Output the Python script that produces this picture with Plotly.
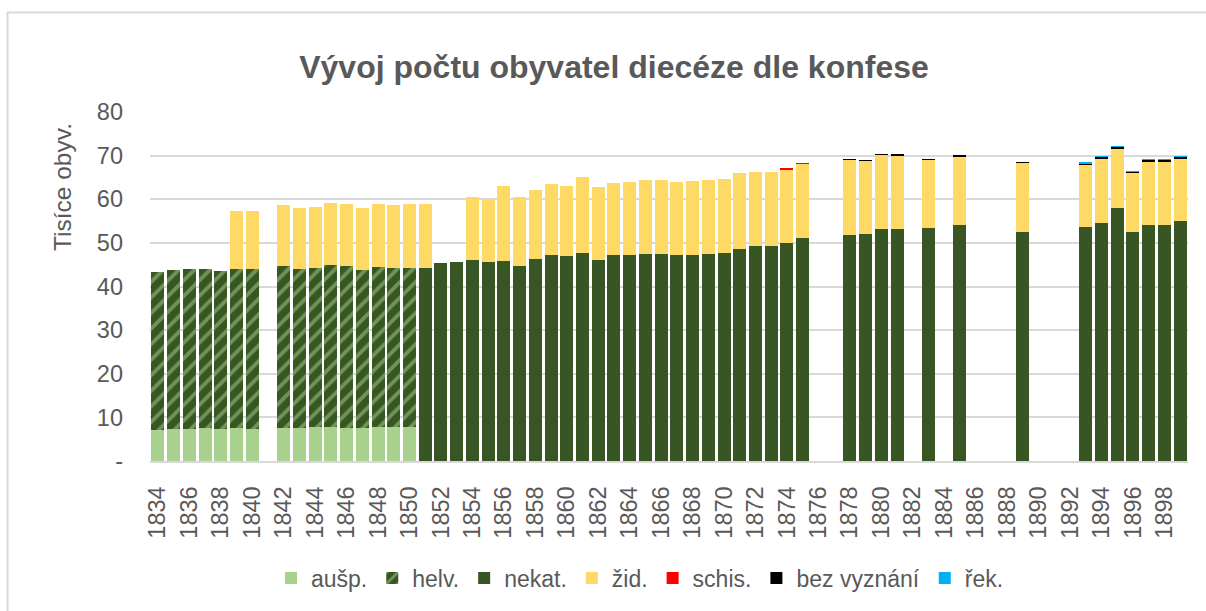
import plotly.graph_objects as go

# Years on the category axis
years = list(range(1834, 1900))

# Population by confession, in thousands (missing years left empty)
ausp = {1834: 7.1, 1835: 7.3, 1836: 7.3, 1837: 7.5, 1838: 7.3, 1839: 7.6, 1840: 7.4,
        1842: 7.5, 1843: 7.6, 1844: 7.7, 1845: 7.7, 1846: 7.5, 1847: 7.6, 1848: 7.7,
        1849: 7.7, 1850: 7.7}
helv = {1834: 36.3, 1835: 36.4, 1836: 36.6, 1837: 36.5, 1838: 36.3, 1839: 36.3, 1840: 36.7,
        1842: 37.1, 1843: 36.3, 1844: 36.6, 1845: 37.3, 1846: 37.2, 1847: 36.2, 1848: 36.8,
        1849: 36.6, 1850: 36.6}
nekat = {1851: 44.3, 1852: 45.4, 1853: 45.7, 1854: 46.0, 1855: 45.6, 1856: 45.8, 1857: 44.7,
         1858: 46.4, 1859: 47.2, 1860: 47.0, 1861: 47.6, 1862: 46.1, 1863: 47.2, 1864: 47.3,
         1865: 47.5, 1866: 47.5, 1867: 47.2, 1868: 47.3, 1869: 47.5, 1870: 47.6, 1871: 48.6,
         1872: 49.2, 1873: 49.2, 1874: 49.9, 1875: 51.1, 1878: 51.9, 1879: 52.0, 1880: 53.1,
         1881: 53.1, 1883: 53.4, 1885: 54.1, 1889: 52.6, 1893: 53.6, 1894: 54.5, 1895: 58.1,
         1896: 52.6, 1897: 54.0, 1898: 54.0, 1899: 55.0}
zid = {1839: 13.4, 1840: 13.1, 1842: 14.0, 1843: 14.0, 1844: 13.9, 1845: 14.1, 1846: 14.3,
       1847: 14.1, 1848: 14.3, 1849: 14.3, 1850: 14.5, 1851: 14.7, 1854: 14.6, 1855: 14.5,
       1856: 17.3, 1857: 15.9, 1858: 15.8, 1859: 16.2, 1860: 16.0, 1861: 17.4, 1862: 16.6,
       1863: 16.6, 1864: 16.7, 1865: 16.8, 1866: 16.9, 1867: 16.8, 1868: 16.8, 1869: 17.0,
       1870: 17.1, 1871: 17.5, 1872: 17.0, 1873: 17.1, 1874: 17.0, 1875: 17.1, 1878: 17.1,
       1879: 16.8, 1880: 17.2, 1881: 17.0, 1883: 15.7, 1885: 15.8, 1889: 15.8, 1893: 14.4,
       1894: 14.8, 1895: 13.5, 1896: 13.5, 1897: 14.6, 1898: 14.6, 1899: 14.3}
schis = {1874: 0.04, 1875: 0.06}
bez = {1878: 0.08, 1879: 0.08, 1880: 0.06, 1881: 0.06, 1883: 0.12, 1885: 0.1, 1889: 0.1,
       1893: 0.3, 1894: 0.4, 1895: 0.45, 1896: 0.35, 1897: 0.4, 1898: 0.4, 1899: 0.5}
rek = {1893: 0.03, 1894: 0.02, 1895: 0.02, 1896: 0.02, 1897: 0.02, 1898: 0.02, 1899: 0.02}

y_ticks = [0, 10, 20, 30, 40, 50, 60, 70, 80]
y_tick_text = ["-", "10", "20", "30", "40", "50", "60", "70", "80"]
x_ticks = list(range(1834, 1900, 2))

TEXT = "#595959"
GRID = "#D9D9D9"
FONT = "Liberation Sans"

series = [
    ("aušp.", ausp, dict(color="#A9D18E")),
    ("helv.", helv, dict(color="#375623",
                         pattern=dict(shape="/", bgcolor="#375623", fgcolor="#A9D18E",
                                      size=11, solidity=0.35, fillmode="overlay"))),
    ("nekat.", nekat, dict(color="#375623")),
    ("žid.", zid, dict(color="#FFD966")),
    ("schis.", schis, dict(color="#FF0000")),
    ("bez vyznání", bez, dict(color="#000000")),
    ("řek.", rek, dict(color="#00B0F0")),
]

fig = go.Figure()
for name, values, marker in series:
    fig.add_trace(go.Bar(
        x=years,
        y=[values.get(yr) for yr in years],
        name=name,
        marker=dict(line=dict(width=0), **marker),
        hovertemplate="%{x}: %{y}<extra>" + name + "</extra>",
    ))

L, R, T, B = 150, 18, 112, 150
W, H = 1206, 611
pw, ph = W - L - R, H - T - B


def px_x(x):
    return (x - L) / pw


def px_y(y):
    return (H - B - y) / ph


fig.update_layout(
    width=W, height=H,
    margin=dict(l=L, r=R, t=T, b=B),
    barmode="stack",
    bargap=0.17,
    plot_bgcolor="white",
    paper_bgcolor="white",
    font=dict(family=FONT, color=TEXT, size=20),
    title=dict(text="<b>Vývoj počtu obyvatel diecéze dle konfese</b>",
               x=614 / W, xanchor="center", y=1 - 67 / H, yanchor="middle",
               font=dict(family=FONT, size=32, color=TEXT)),
    xaxis=dict(range=[1833.5, 1899.5], tickmode="array", tickvals=x_ticks,
               ticktext=[str(v) for v in x_ticks], tickangle=-90,
               tickfont=dict(size=23.5, color=TEXT), showgrid=False,
               showline=True, linecolor=GRID, linewidth=2, ticks="",
               ticklabelstandoff=14),
    yaxis=dict(range=[0, 80], tickmode="array", tickvals=y_ticks, ticktext=y_tick_text,
               tickfont=dict(size=23.5, color=TEXT), showgrid=True, gridcolor=GRID,
               gridwidth=1.5, zeroline=False, showline=False, ticks="",
               ticklabelstandoff=26),
    legend=dict(orientation="h", x=px_x(640), xanchor="center", y=px_y(578),
                yanchor="middle", font=dict(size=23, color=TEXT),
                traceorder="normal", itemwidth=30, bgcolor="rgba(0,0,0,0)"),
    annotations=[dict(text="Tisíce obyv.", textangle=-90, xref="paper", yref="paper",
                      x=px_x(62), y=px_y(187), showarrow=False,
                      font=dict(size=24.5, color=TEXT), xanchor="center", yanchor="middle")],
    shapes=[
        dict(type="line", xref="paper", yref="paper", x0=px_x(7), x1=px_x(1210),
             y0=px_y(12.5), y1=px_y(12.5), line=dict(color=GRID, width=2)),
        dict(type="line", xref="paper", yref="paper", x0=px_x(7.5), x1=px_x(7.5),
             y0=px_y(12), y1=px_y(620), line=dict(color=GRID, width=2)),
    ],
)

fig.write_html("out.html")
